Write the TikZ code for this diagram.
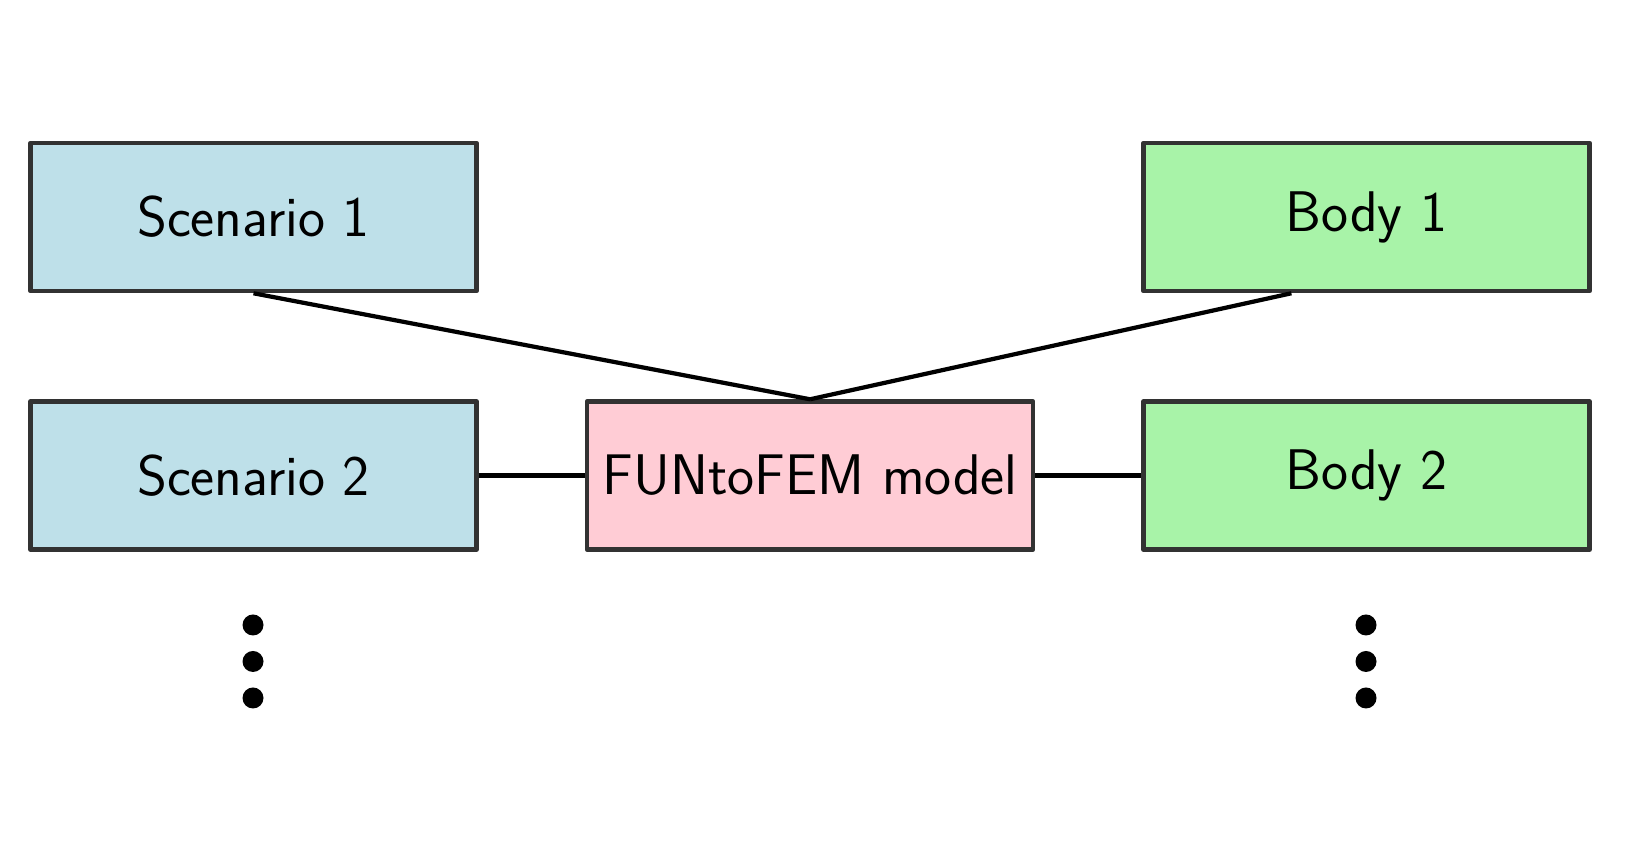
\documentclass[tikz,border=0pt]{standalone}
\usepackage{tikz}
\usetikzlibrary{positioning,calc}

\definecolor{scenblue}{RGB}{190,224,233}
\definecolor{modelpink}{RGB}{255,204,213}
\definecolor{bodygreen}{RGB}{168,243,168}
\definecolor{edgegray}{RGB}{50,50,50}

\tikzset{
  box/.style={draw=edgegray, line width=1.3pt, line join=round, minimum width=4.46cm,
    minimum height=1.48cm, inner sep=0pt, font=\sffamily\fontsize{16.3}{19}\selectfont},
  scen/.style={box, fill=scenblue},
  model/.style={box, fill=modelpink},
  body/.style={box, fill=bodygreen},
  link/.style={line width=1.2pt, black},
  vdot/.style={circle, fill=black, inner sep=0pt, minimum size=0.21cm}
}

\begin{document}
\begin{tikzpicture}[node distance=1.06cm and 1.06cm]
\useasboundingbox (0,0) rectangle (16.36,8.46);

%Draw the boxes
\node[scen] (scen1) at (2.535,6.29) {Scenario 1};
\node[scen, below=of scen1] (scen2) {Scenario 2};
\node[model, right=of scen2] (model) {FUNtoFEM model};
\node[body, right=of model] (body2) {Body 2};
\node[body, above=of body2] (body1) {Body 1};

%Draw the dots
\node[vdot] (sdot1) at (2.53,2.21) {};
\node[vdot] (sdot2) at (2.53,1.845) {};
\node[vdot] (sdot3) at (2.53,1.48) {};
\node[vdot] (bdot1) at (13.66,2.21) {};
\node[vdot] (bdot2) at (13.66,1.845) {};
\node[vdot] (bdot3) at (13.66,1.48) {};

%Draw the links
\draw[link] (scen1.south) -- (model.north);
\draw[link] ($(body1.south west)!0.333!(body1.south east)$) -- (model.north);
\draw[link] (scen2.east) -- (model.west);
\draw[link] (model.east) -- (body2.west);

\end{tikzpicture}
\end{document}
